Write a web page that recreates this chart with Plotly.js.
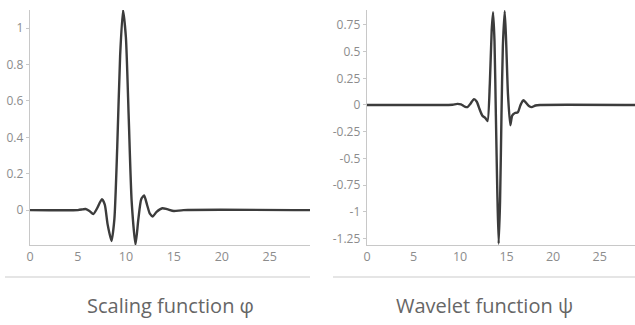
<!DOCTYPE html>
<html><head><meta charset="utf-8">
<script src="https://cdn.plot.ly/plotly-3.0.1.min.js"></script>
<style>html,body{margin:0;padding:0;background:#fff}#chart{width:635px;height:325px}</style>
</head><body><div id="chart"></div>
<script>
// Scaling function phi
const scalingX = [0, 5, 5.5, 5.8, 6.2, 6.6, 7.0, 7.5, 7.8, 8.1, 8.5, 8.8, 9.1, 9.4, 9.7, 10.0, 10.3, 10.6, 11.0, 11.3, 11.6, 11.9, 12.2, 12.5, 12.8, 13.2, 13.8, 14.3, 15, 16, 29.2];
const scalingY = [0, 0, 0.004, 0.006, -0.005, -0.022, 0.01, 0.06, 0.03, -0.08, -0.17, -0.05, 0.35, 0.85, 1.1, 0.95, 0.5, 0.05, -0.19, -0.05, 0.06, 0.08, 0.03, -0.02, -0.035, -0.01, 0.01, 0.005, -0.005, 0, 0];
// Wavelet function psi
const waveletX = [0, 8.5, 9.2, 9.7, 10.1, 10.5, 10.8, 11.1, 11.5, 11.8, 12.1, 12.4, 12.7, 12.95, 13.2, 13.4, 13.55, 13.7, 13.85, 14.0, 14.15, 14.3, 14.45, 14.6, 14.8, 14.95, 15.15, 15.4, 15.6, 15.9, 16.2, 16.5, 16.8, 17.1, 17.4, 17.7, 18.1, 18.6, 28.8];
const waveletY = [0, 0, 0.002, 0.01, 0.005, -0.015, -0.02, 0.01, 0.055, 0.03, -0.04, -0.1, -0.12, -0.15, 0.2, 0.7, 0.87, 0.6, -0.1, -0.8, -1.3, -0.9, -0.1, 0.55, 0.88, 0.6, 0.1, -0.19, -0.1, -0.075, -0.07, 0.0, 0.045, 0.02, -0.01, -0.02, -0.005, 0, 0];

const xTicks = [0, 5, 10, 15, 20, 25];
const leftYTicks = [0, 0.2, 0.4, 0.6, 0.8, 1];
const leftYLabels = ["0", "0.2", "0.4", "0.6", "0.8", "1"];
const rightYTicks = [0.75, 0.5, 0.25, 0, -0.25, -0.5, -0.75, -1, -1.25];
const rightYLabels = ["0.75", "0.5", "0.25", "0", "-0.25", "-0.5", "-0.75", "-1", "-1.25"];
const titles = ["Scaling function φ", "Wavelet function ψ"];

const W = 635, H = 325;
const lineStyle = {color: '#3c3c3c', width: 2.4, shape: 'spline', smoothing: 0.6};
const traces = [
  {x: scalingX, y: scalingY, type: 'scatter', mode: 'lines', line: lineStyle, xaxis: 'x', yaxis: 'y', hoverinfo: 'none'},
  {x: waveletX, y: waveletY, type: 'scatter', mode: 'lines', line: lineStyle, xaxis: 'x2', yaxis: 'y2', hoverinfo: 'none'}
];
const yTickFont = {family: 'Open Sans, Arial, sans-serif', size: 12, color: '#8c8c8c'};
const xTickFont = {family: 'Open Sans, Arial, sans-serif', size: 12.5, color: '#8c8c8c'};
const axBase = {showgrid: false, zeroline: false, showline: true, linecolor: '#c8c8c8', linewidth: 1.3, fixedrange: true};
const yDom = [(H - 245) / H, (H - 10) / H];
const titleFont = {family: 'Open Sans, sans-serif', size: 20, color: '#666'};
const layout = {
  width: W, height: H,
  margin: {l: 0, r: 0, t: 0, b: 0},
  paper_bgcolor: '#fff', plot_bgcolor: '#fff',
  showlegend: false,
  xaxis: Object.assign({}, axBase, {domain: [30 / W, 310 / W], range: [0, 29.2], tickvals: xTicks, ticks: '', tickfont: xTickFont}),
  yaxis: Object.assign({}, axBase, {domain: yDom, range: [-0.192, 1.1], tickvals: leftYTicks, ticktext: leftYLabels, ticks: 'outside', ticklen: 3, tickcolor: '#c8c8c8', tickfont: yTickFont}),
  xaxis2: Object.assign({}, axBase, {domain: [367 / W, 1], range: [0, 28.8], tickvals: xTicks, ticks: '', anchor: 'y2', tickfont: xTickFont}),
  yaxis2: Object.assign({}, axBase, {domain: yDom, range: [-1.312, 0.89], tickvals: rightYTicks, ticktext: rightYLabels, ticks: 'outside', ticklen: 3, tickcolor: '#c8c8c8', anchor: 'x2', tickfont: yTickFont}),
  shapes: [
    {type: 'line', xref: 'paper', yref: 'paper', x0: 5 / W, x1: 310 / W, y0: (H - 277) / H, y1: (H - 277) / H, line: {color: '#dcdcdc', width: 1.5}},
    {type: 'line', xref: 'paper', yref: 'paper', x0: 333 / W, x1: 1, y0: (H - 277) / H, y1: (H - 277) / H, line: {color: '#dcdcdc', width: 1.5}}
  ],
  annotations: [
    {text: titles[0], xref: 'paper', yref: 'paper', x: 170 / W, y: (H - 305) / H, showarrow: false, xanchor: 'center', yanchor: 'middle', font: titleFont},
    {text: titles[1], xref: 'paper', yref: 'paper', x: 484 / W, y: (H - 305) / H, showarrow: false, xanchor: 'center', yanchor: 'middle', font: titleFont}
  ]
};
Plotly.newPlot('chart', traces, layout, {staticPlot: true, displayModeBar: false});
</script>
</body></html>
